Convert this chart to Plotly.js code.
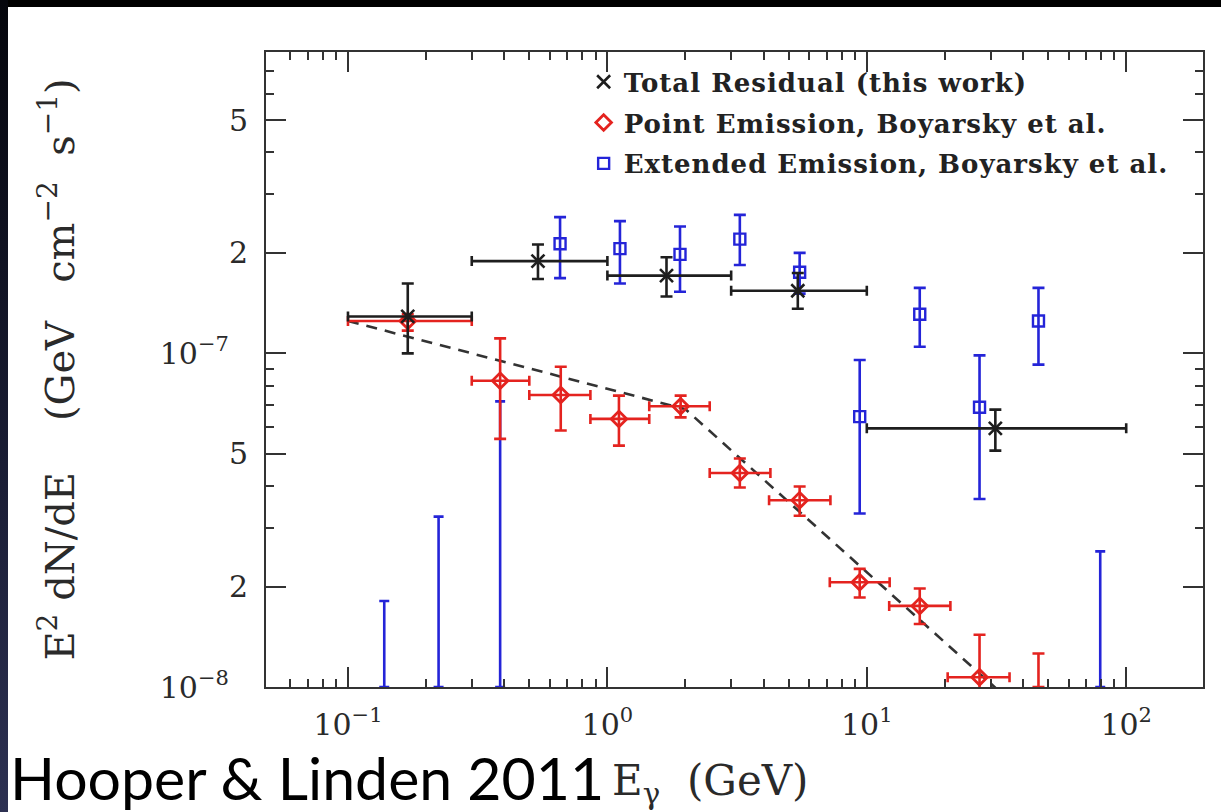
<!DOCTYPE html>
<html>
<head>
<meta charset="utf-8">
<script src="https://cdn.plot.ly/plotly-3.0.1.min.js"></script>
<style>
  html, body { margin: 0; padding: 0; background: #fff; }
  #frame { position: absolute; left: 0; top: 0; width: 1221px; height: 812px; background: #fff; overflow: hidden; }
  #topband { position: absolute; left: 0; top: 0; width: 1221px; height: 7px; background: #000; }
  #leftband { position: absolute; left: 0; top: 0; width: 8px; height: 812px; background: linear-gradient(to bottom, #05060c, #1b1e36 60%, #2d3152); }
  #chart { position: absolute; left: 8px; top: 7px; width: 1213px; height: 805px; }
  .legendtext { letter-spacing: 1px; }
</style>
</head>
<body>
<div id="frame">
  <div id="topband"></div>
  <div id="leftband"></div>
  <div id="chart"></div>
</div>
<script>
// ---- Total residual (this work) ----
const totE    = [0.17, 0.54, 1.69, 5.42, 31.3];
const totELo  = [0.1, 0.3, 1, 3, 10];
const totEHi  = [0.3, 1, 3, 10, 100];
const totV    = [1.29e-7, 1.89e-7, 1.71e-7, 1.54e-7, 5.96e-8];
const totVLo  = [1.00e-7, 1.67e-7, 1.48e-7, 1.36e-7, 5.11e-8];
const totVHi  = [1.62e-7, 2.12e-7, 1.94e-7, 1.74e-7, 6.78e-8];

// ---- Point emission, Boyarsky et al. ----
const ptE    = [0.17, 0.386, 0.661, 1.108, 1.916, 3.24, 5.51, 9.39, 16.0, 27.2];
const ptELo  = [0.1, 0.3, 0.5, 0.86, 1.45, 2.48, 4.2, 7.2, 12.2, 20.5];
const ptEHi  = [0.3, 0.5, 0.86, 1.45, 2.48, 4.25, 7.24, 12.25, 21.0, 35.5];
const ptV    = [1.25e-7, 8.28e-8, 7.50e-8, 6.36e-8, 6.94e-8, 4.38e-8, 3.63e-8, 2.06e-8, 1.75e-8, 1.07e-8];
const ptVLo  = [1.17e-7, 5.54e-8, 5.87e-8, 5.29e-8, 6.43e-8, 3.96e-8, 3.26e-8, 1.855e-8, 1.544e-8, 7.0e-9];
const ptVHi  = [1.31e-7, 1.109e-7, 9.12e-8, 7.47e-8, 7.47e-8, 4.84e-8, 3.99e-8, 2.26e-8, 1.974e-8, 1.434e-8];
// point emission bins whose central value lies below the plotted range (only the upper bar is visible)
const ptLimE  = [45.9];
const ptLimHi = [1.26e-8];

// ---- Extended emission, Boyarsky et al. ----
const extE   = [0.657, 1.118, 1.905, 3.24, 5.51, 9.39, 16.0, 27.2, 45.9];
const extV   = [2.13e-7, 2.06e-7, 1.98e-7, 2.20e-7, 1.75e-7, 6.46e-8, 1.31e-7, 6.89e-8, 1.25e-7];
const extVLo = [1.68e-7, 1.62e-7, 1.53e-7, 1.84e-7, 1.51e-7, 3.31e-8, 1.047e-7, 3.66e-8, 9.25e-8];
const extVHi = [2.56e-7, 2.49e-7, 2.40e-7, 2.60e-7, 2.00e-7, 9.55e-8, 1.571e-7, 9.86e-8, 1.571e-7];
const extLimE  = [0.138, 0.2235, 0.386, 79.4];
const extLimHi = [1.81e-8, 3.24e-8, 7.18e-8, 2.55e-8];

// ---- broken power-law (dashed) ----
const fitE = [0.1, 2.0, 35];
const fitV = [1.25e-7, 6.8e-8, 9.2e-9];

// ---- axis ticks and texts ----
const NB = '\u00a0';
const xTickVals = [0.1, 1, 10, 100];
const xTickText = ['10<sup>\u22121</sup>', '10<sup>0</sup>', '10<sup>1</sup>', '10<sup>2</sup>'];
const xMinorVals = [0.06, 0.07, 0.08, 0.09, 0.2, 0.3, 0.4, 0.5, 0.6, 0.7, 0.8, 0.9,
                    2, 3, 4, 5, 6, 7, 8, 9, 20, 30, 40, 50, 60, 70, 80, 90];
const yTickVals = [1e-8, 2e-8, 5e-8, 1e-7, 2e-7, 5e-7];
const yTickText = ['10<sup>\u22128</sup>' + NB + NB, '2', '5', '10<sup>\u22127</sup>' + NB + NB, '2', '5'];
const yMinorVals = [3e-8, 4e-8, 6e-8, 7e-8, 8e-8, 9e-8, 3e-7, 4e-7, 6e-7, 7e-7];
const xTitle = 'E<sub>\u03b3</sub>' + NB + NB + '(GeV)';
const yTitle = 'E<sup>2</sup>' + NB + 'dN/dE' + NB + NB + NB + NB + '(GeV' + NB + NB + NB +
               'cm<sup>\u22122</sup>' + NB + NB + 's<sup>\u22121</sup>)';
const creditText = 'Hooper &amp; Linden 2011';

const floorV = 1e-8;   // bottom of the plotted range

const sub = (a, b) => a.map((v, i) => v - b[i]);

const BLACK = '#1e1e1e', RED = '#e4231f', BLUE = '#2424d8';

function errBars(val, lo, hi, color, w) {
  return {type: 'data', symmetric: false, array: sub(hi, val), arrayminus: sub(val, lo),
          color: color, thickness: 2.6, width: w};
}

const traces = [
  {
    x: fitE, y: fitV, mode: 'lines', showlegend: false, hoverinfo: 'skip',
    line: {color: '#333', width: 2.6, dash: '11px,8px'}
  },
  {
    x: extLimE, y: extLimE.map(() => floorV), mode: 'markers', showlegend: false,
    marker: {opacity: 0, size: 2, color: BLUE},
    error_y: {type: 'data', symmetric: false, array: sub(extLimHi, extLimE.map(() => floorV)),
              arrayminus: extLimE.map(() => 0), color: BLUE, thickness: 2.6, width: 5}
  },
  {
    x: ptLimE, y: ptLimE.map(() => floorV), mode: 'markers', showlegend: false,
    marker: {opacity: 0, size: 2, color: RED},
    error_y: {type: 'data', symmetric: false, array: sub(ptLimHi, ptLimE.map(() => floorV)),
              arrayminus: ptLimE.map(() => 0), color: RED, thickness: 2.6, width: 6}
  },
  {
    name: 'Extended Emission, Boyarsky et al.', legendrank: 3, legendgroup: 'c',
    x: extE, y: extV, mode: 'markers',
    marker: {symbol: 'square-open', size: 11, color: BLUE, line: {width: 2.4, color: BLUE}},
    error_y: errBars(extV, extVLo, extVHi, BLUE, 6)
  },
  {
    name: 'Point Emission, Boyarsky et al.', legendrank: 2, legendgroup: 'b',
    x: ptE, y: ptV, mode: 'markers',
    marker: {symbol: 'diamond-open', size: 12, color: RED, line: {width: 2.8, color: RED}},
    error_y: errBars(ptV, ptVLo, ptVHi, RED, 6),
    error_x: errBars(ptE, ptELo, ptEHi, RED, 5)
  },
  {
    name: 'Total Residual (this work)', legendrank: 1, legendgroup: 'a',
    x: totE, y: totV, mode: 'markers',
    marker: {symbol: 'x-thin-open', size: 13, color: BLACK, line: {width: 2.6, color: BLACK}},
    error_y: errBars(totV, totVLo, totVHi, BLACK, 6),
    error_x: errBars(totE, totELo, totEHi, BLACK, 5)
  }
];

const tickFont = {family: 'DejaVu Serif', size: 30, color: '#2a2a2a'};

const layout = {
  width: 1213, height: 805,
  margin: {l: 258, r: 18, t: 45, b: 125, autoexpand: false},
  paper_bgcolor: '#ffffff', plot_bgcolor: '#ffffff',
  showlegend: true,
  legend: {
    x: 0.339, y: 0.99, xanchor: 'left', yanchor: 'top',
    bgcolor: 'rgba(0,0,0,0)', borderwidth: 0,
    font: {family: 'DejaVu Serif', size: 26, color: '#222', weight: 'bold'},
    tracegroupgap: 4, itemwidth: 30, traceorder: 'grouped'
  },
  xaxis: {
    type: 'log', range: [-1.316, 2.296],
    showline: true, linecolor: '#333', linewidth: 2, mirror: 'allticks',
    showgrid: false, zeroline: false,
    ticks: 'inside', ticklen: 20, tickwidth: 2, tickcolor: '#333',
    tickmode: 'array', tickvals: xTickVals, ticktext: xTickText,
    tickfont: tickFont, ticklabelstandoff: 10,
    minor: {tickmode: 'array', tickvals: xMinorVals, ticks: 'inside', ticklen: 8, tickwidth: 2, tickcolor: '#333', showgrid: false}
  },
  yaxis: {
    type: 'log', range: [-8, -6.0969],
    showline: true, linecolor: '#333', linewidth: 2, mirror: 'allticks',
    showgrid: false, zeroline: false,
    ticks: 'inside', ticklen: 20, tickwidth: 2, tickcolor: '#333',
    tickmode: 'array', tickvals: yTickVals, ticktext: yTickText,
    tickfont: tickFont, ticklabelstandoff: 10,
    minor: {tickmode: 'array', tickvals: yMinorVals, ticks: 'inside', ticklen: 8, tickwidth: 2, tickcolor: '#333', showgrid: false},
    title: {text: yTitle, font: {family: 'DejaVu Serif', size: 40, color: '#2a2a2a'}, standoff: 73}
  },
  annotations: [
    {
      text: xTitle, showarrow: false,
      xref: 'paper', yref: 'paper', x: 0.4739, y: -0.1512, xanchor: 'center', yanchor: 'middle',
      font: {family: 'DejaVu Serif', size: 42, color: '#2a2a2a'}
    },
    {
      text: creditText, showarrow: false,
      xref: 'paper', yref: 'paper', x: -0.2755, y: -0.2016, xanchor: 'left', yanchor: 'bottom',
      font: {family: 'Lato', size: 59, color: '#000'}
    }
  ]
};

Plotly.newPlot('chart', traces, layout, {displayModeBar: false, staticPlot: true});
</script>
</body>
</html>
